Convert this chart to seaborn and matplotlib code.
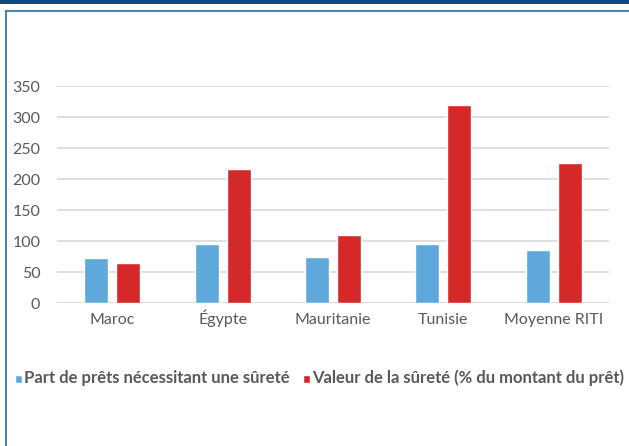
import pandas as pd
import matplotlib
matplotlib.use("Agg")
import matplotlib.pyplot as plt
import seaborn as sns
from matplotlib.lines import Line2D
from matplotlib.patches import Rectangle

# Data
pays = ["Maroc", "Égypte", "Mauritanie", "Tunisie", "Moyenne RITI"]
part_prets = [72, 95, 75, 95, 85]
valeur_surete = [65, 216, 110, 320, 226]
series = ["Part de prêts nécessitant une sûreté",
          "Valeur de la sûreté (% du montant du prêt)"]

df = pd.DataFrame({
    "pays": pays * 2,
    "valeur": part_prets + valeur_surete,
    "serie": [series[0]] * len(pays) + [series[1]] * len(pays),
})

sns.set_style("white")
plt.rcParams["font.family"] = ["Lato", "DejaVu Sans"]

fig = plt.figure(figsize=(6.29, 4.46), dpi=100)
ax = fig.add_axes([0.0906, 0.3206, 0.8774, 0.4864])

sns.barplot(data=df, x="pays", y="valeur", hue="serie",
            palette=["#5FA8DC", "#D52828"], saturation=1, width=0.58, gap=0.25,
            ax=ax, errorbar=None)

ax.set_ylim(0, 350)
ax.set_yticks(range(0, 351, 50))
ax.set_xlim(-0.5, 4.5)
ax.yaxis.grid(True, color="#D9D9D9", lw=1.2)
ax.set_axisbelow(True)
for s in ax.spines.values():
    s.set_visible(False)
ax.axhline(0, color="#D9D9D9", lw=1.2, zorder=0)
ax.set_xlabel("")
ax.set_ylabel("")
ax.tick_params(axis="both", length=0, labelsize=11.5, colors="#595959")
ax.tick_params(axis="y", pad=12)
ax.tick_params(axis="x", pad=15)
for lab in ax.get_xticklabels():
    lab.set_va("baseline")

leg = ax.legend(loc="center left", bbox_to_anchor=(0.024, 0.152),
                bbox_transform=fig.transFigure, ncol=2, frameon=False,
                handlelength=0.5, handleheight=0.5, handletextpad=0.12,
                columnspacing=1.0, borderaxespad=0, borderpad=0)
for t in leg.get_texts():
    t.set_fontweight("bold")
    t.set_fontsize(12)
    t.set_color("#595959")

# Top band and frame
fig.add_artist(Rectangle((0, 1 - 4 / 446), 1, 4 / 446, transform=fig.transFigure,
                         color="#0B4A80", lw=0))
fig.add_artist(Line2D([5.5 / 629, 1], [1 - 10.5 / 446, 1 - 10.5 / 446],
                      transform=fig.transFigure, color="#4F84AE", lw=1.5))
fig.add_artist(Line2D([5.5 / 629, 5.5 / 629], [0, 1 - 10.5 / 446],
                      transform=fig.transFigure, color="#4F84AE", lw=1.5))

fig.savefig("out.png", dpi=100)
